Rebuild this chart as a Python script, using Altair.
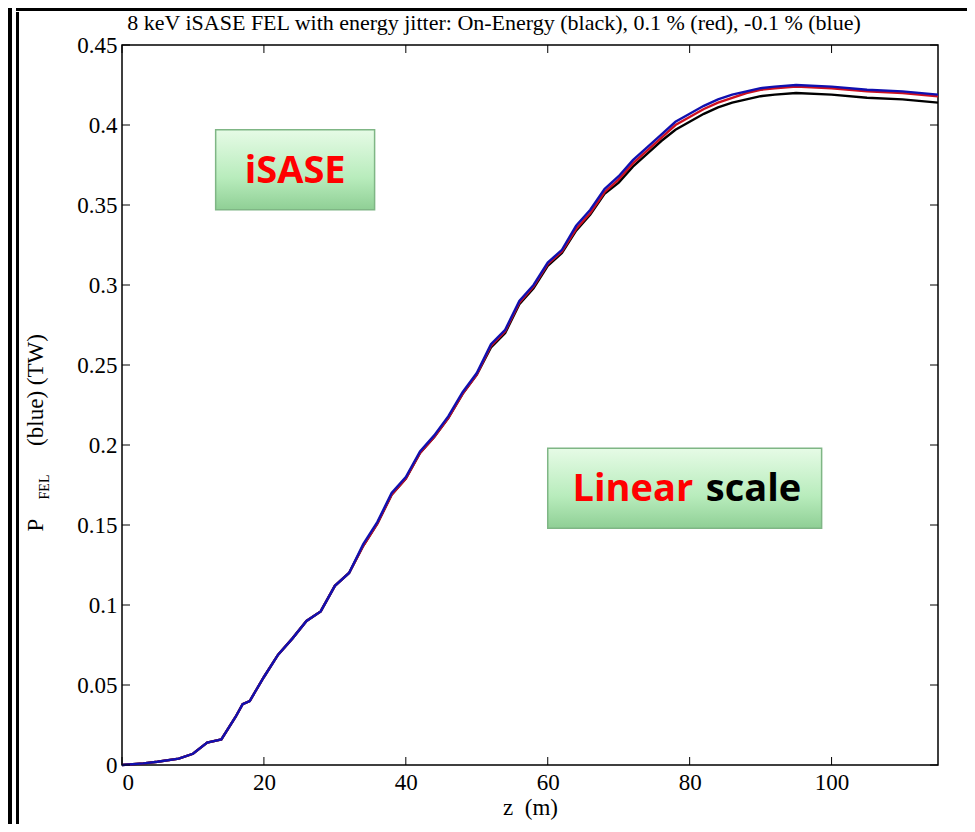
import altair as alt
import pandas as pd

z = [0, 3, 5, 8, 10, 12, 14, 16, 17, 18, 20, 22, 24, 26, 28, 30, 32, 34, 36, 38, 40, 42, 44, 46, 48,
     50, 52, 54, 56, 58, 60, 62, 64, 66, 68, 70, 72, 74, 76, 78, 80, 82, 84, 86, 88, 90, 92, 95,
     100, 105, 110, 115]
p_blue = [0, 0.001, 0.002, 0.004, 0.007, 0.014, 0.016, 0.03, 0.038, 0.04, 0.055, 0.069, 0.079, 0.09,
          0.096, 0.112, 0.12, 0.138, 0.152, 0.17, 0.18, 0.196, 0.206, 0.218, 0.233, 0.245, 0.263,
          0.272, 0.29, 0.3, 0.314, 0.322, 0.337, 0.347, 0.36, 0.368, 0.378, 0.386, 0.394, 0.402,
          0.407, 0.412, 0.416, 0.419, 0.421, 0.423, 0.424, 0.425, 0.424, 0.422, 0.421, 0.419]
p_red = [0, 0.001, 0.002, 0.004, 0.007, 0.014, 0.016, 0.03, 0.038, 0.04, 0.055, 0.069, 0.079, 0.09,
         0.096, 0.112, 0.12, 0.137, 0.151, 0.169, 0.179, 0.195, 0.205, 0.217, 0.232, 0.244, 0.262,
         0.271, 0.289, 0.299, 0.313, 0.321, 0.335, 0.345, 0.358, 0.366, 0.376, 0.384, 0.392, 0.4,
         0.405, 0.41, 0.414, 0.417, 0.42, 0.422, 0.423, 0.424, 0.423, 0.421, 0.42, 0.418]
p_black = [0, 0.001, 0.002, 0.004, 0.007, 0.014, 0.016, 0.03, 0.038, 0.04, 0.055, 0.069, 0.079, 0.09,
           0.096, 0.112, 0.12, 0.137, 0.151, 0.169, 0.179, 0.195, 0.205, 0.217, 0.232, 0.244, 0.261,
           0.27, 0.288, 0.298, 0.312, 0.32, 0.334, 0.344, 0.357, 0.364, 0.374, 0.382, 0.39, 0.397,
           0.402, 0.407, 0.411, 0.414, 0.416, 0.418, 0.419, 0.42, 0.419, 0.417, 0.416, 0.414]

x_ticks = [0, 20, 40, 60, 80, 100]
y_ticks = [0, 0.05, 0.1, 0.15, 0.2, 0.25, 0.3, 0.35, 0.4, 0.45]
title_text = "8 keV iSASE FEL with energy jitter: On-Energy (black), 0.1 % (red), -0.1 % (blue)"

rows = []
for name, vals in [("black", p_black), ("red", p_red), ("blue", p_blue)]:
    for zz, v in zip(z, vals):
        rows.append({"z": zz, "p": v, "series": name})
df = pd.DataFrame(rows)

W, H = 816, 720
xs = alt.Scale(domain=[0, 115], nice=False, zero=False)
ys = alt.Scale(domain=[0, 0.45], nice=False)
serif = "Liberation Serif"

lines = alt.Chart(df).mark_line(strokeWidth=2.4).encode(
    x=alt.X("z:Q", scale=xs, title="z\u00a0\u00a0(m)",
            axis=alt.Axis(values=x_ticks, domain=False, ticks=False, grid=False, labelPadding=6,
                          labelFont=serif, labelFontSize=23, labelColor="black",
                          titleFont=serif, titleFontSize=23, titleFontWeight="normal",
                          titleColor="black", titlePadding=2)),
    y=alt.Y("p:Q", scale=ys, title=None,
            axis=alt.Axis(values=y_ticks, domain=False, ticks=False, grid=False, labelPadding=5,
                          labelFont=serif, labelFontSize=23, labelColor="black",
                          labelExpr="datum.value == 0 ? '0' : format(datum.value, '.2~f')")),
    color=alt.Color("series:N", scale=alt.Scale(domain=["black", "red", "blue"],
                                                range=["black", "#cc1020", "#1010b0"]), legend=None),
)

xt = pd.DataFrame({"z": x_ticks})
yt = pd.DataFrame({"p": y_ticks})
xtick_b = alt.Chart(xt).mark_rule(color="black").encode(x=alt.X("z:Q", scale=xs), y=alt.value(H), y2=alt.value(H - 8))
xtick_t = alt.Chart(xt).mark_rule(color="black").encode(x=alt.X("z:Q", scale=xs), y=alt.value(0), y2=alt.value(8))
ytick_l = alt.Chart(yt).mark_rule(color="black").encode(y=alt.Y("p:Q", scale=ys), x=alt.value(0), x2=alt.value(8))
ytick_r = alt.Chart(yt).mark_rule(color="black").encode(y=alt.Y("p:Q", scale=ys), x=alt.value(W), x2=alt.value(W - 8))

boxes = pd.DataFrame({"x1": [13.2, 60.0], "x2": [35.6, 98.6], "y1": [0.347, 0.148], "y2": [0.397, 0.198]})
grad = alt.Gradient(gradient="linear", x1=0, y1=0, x2=0, y2=1,
                    stops=[alt.GradientStop(color="#e6fbe6", offset=0),
                           alt.GradientStop(color="#b8ecbc", offset=0.6),
                           alt.GradientStop(color="#8fcf95", offset=1)])
box = alt.Chart(boxes).mark_rect(color=grad, stroke="#7fb685", strokeWidth=1.5).encode(
    x=alt.X("x1:Q", scale=xs), x2="x2", y=alt.Y("y1:Q", scale=ys), y2="y2")

labels = pd.DataFrame({"x": [24.4, 72.0, 89.0], "y": [0.372, 0.173, 0.173],
                       "t": ["iSASE", "Linear", "scale"], "c": ["red", "red", "black"]})
lab = alt.Chart(labels).mark_text(font="Open Sans", fontWeight="bold", fontSize=38, dy=2).encode(
    x=alt.X("x:Q", scale=xs), y=alt.Y("y:Q", scale=ys), text="t:N",
    color=alt.Color("c:N", scale=None))

texts = [
    alt.Chart().mark_text(text=title_text, font=serif, fontSize=22, color="black").encode(
        x=alt.value(372), y=alt.value(-22)),
    alt.Chart().mark_text(text="P", angle=270, font=serif, fontSize=23, color="black").encode(
        x=alt.value(-86), y=alt.value(480)),
    alt.Chart().mark_text(text="FEL", angle=270, font=serif, fontSize=14, color="black").encode(
        x=alt.value(-77), y=alt.value(442)),
    alt.Chart().mark_text(text="(blue) (TW)", angle=270, font=serif, fontSize=23, color="black").encode(
        x=alt.value(-86), y=alt.value(345)),
]
borders = [
    alt.Chart().mark_rect(color="black").encode(x=alt.value(-114), x2=alt.value(-110), y=alt.value(-37), y2=alt.value(800)),
    alt.Chart().mark_rect(color="black").encode(x=alt.value(-106), x2=alt.value(-103), y=alt.value(-33), y2=alt.value(800)),
    alt.Chart().mark_rect(color="black").encode(x=alt.value(-106), x2=alt.value(860), y=alt.value(-37), y2=alt.value(-34)),
]

chart = alt.layer(box, lines, xtick_b, xtick_t, ytick_l, ytick_r, lab, *texts, *borders).properties(
    width=W, height=H,
    autosize=alt.AutoSizeParams(type="none"),
    padding={"left": 114, "top": 37, "right": 29, "bottom": 59},
).configure_view(stroke="black", strokeWidth=1.5)

chart.save("out.html", embed_options={"renderer": "svg", "actions": False})
